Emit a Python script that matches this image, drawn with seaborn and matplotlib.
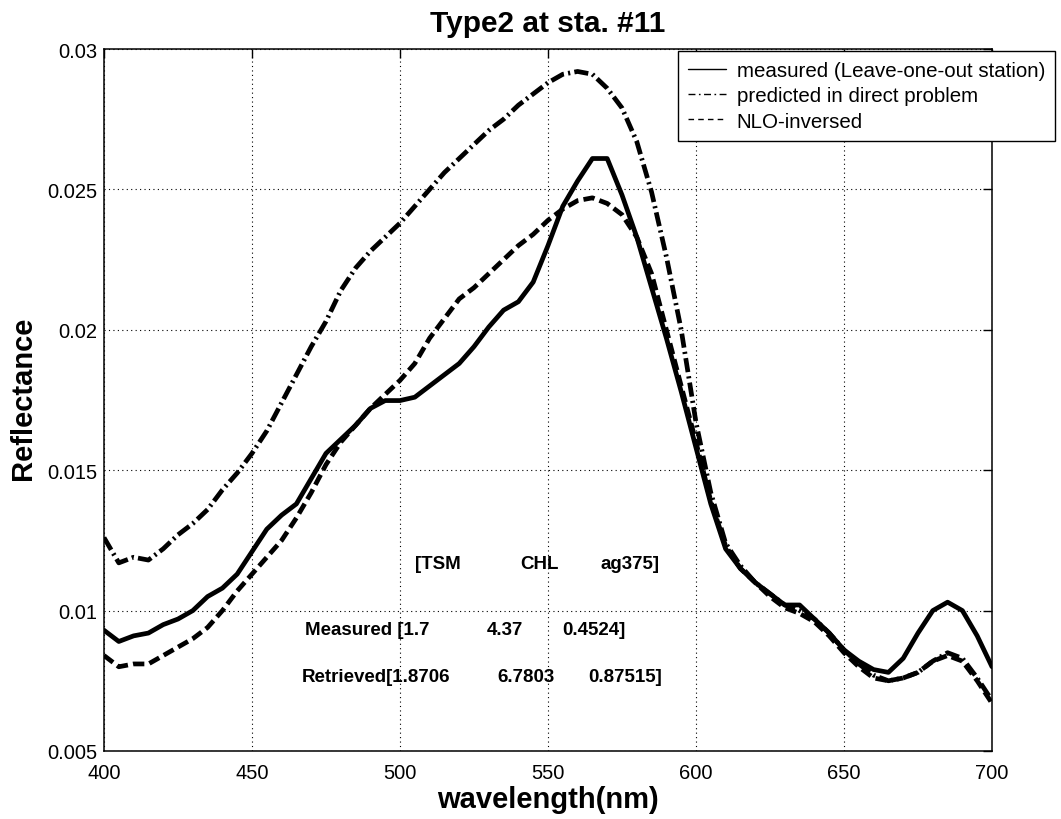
import numpy as np
import pandas as pd
import matplotlib
matplotlib.use("Agg")
import matplotlib.pyplot as plt
import seaborn as sns

# ---------------- data ----------------
wavelength = list(range(400, 701, 5))

measured = [0.0093, 0.0089, 0.0091, 0.0092, 0.0095, 0.0097, 0.0100, 0.0105, 0.0108, 0.0113,
            0.0121, 0.0129, 0.0134, 0.0138, 0.0147, 0.0156, 0.0161, 0.0166, 0.0172, 0.01748,
            0.01748, 0.0176, 0.0180, 0.0184, 0.0188, 0.0194, 0.0201, 0.0207, 0.0210, 0.0217,
            0.0230, 0.0244, 0.0253, 0.0261, 0.0261, 0.0248, 0.0233, 0.0215, 0.0197, 0.0178,
            0.0158, 0.0138, 0.0122, 0.0115, 0.0110, 0.0106, 0.0102, 0.0102, 0.0097, 0.0092,
            0.0086, 0.0082, 0.0079, 0.0078, 0.0083, 0.0092, 0.0100, 0.0103, 0.0100, 0.0091,
            0.0080]

predicted = [0.0126, 0.0117, 0.0119, 0.0118, 0.0122, 0.0127, 0.0131, 0.0136, 0.0143, 0.0149,
             0.0156, 0.0164, 0.0174, 0.0184, 0.0194, 0.0203, 0.0214, 0.0222, 0.0228, 0.0233,
             0.0238, 0.0244, 0.0250, 0.0256, 0.0261, 0.0266, 0.0271, 0.0275, 0.0280, 0.0284,
             0.0288, 0.0291, 0.0292, 0.0291, 0.0286, 0.0279, 0.0267, 0.0249, 0.0226, 0.0200,
             0.0167, 0.0142, 0.0124, 0.0116, 0.0110, 0.0106, 0.0102, 0.0100, 0.0097, 0.0092,
             0.0086, 0.0081, 0.0077, 0.0075, 0.0076, 0.0078, 0.0082, 0.0085, 0.0083, 0.0076,
             0.0068]

nlo_inversed = [0.0084, 0.0080, 0.0081, 0.0081, 0.0084, 0.0087, 0.0090, 0.0094, 0.0100, 0.0107,
                0.0113, 0.0119, 0.0125, 0.0133, 0.0142, 0.0152, 0.0160, 0.0166, 0.0172, 0.0177,
                0.0182, 0.0188, 0.0197, 0.0204, 0.0211, 0.0215, 0.0220, 0.0225, 0.0230, 0.0234,
                0.0239, 0.0243, 0.0246, 0.0247, 0.0245, 0.0241, 0.0233, 0.0220, 0.0200, 0.0180,
                0.0160, 0.0139, 0.0123, 0.0115, 0.0110, 0.0105, 0.0101, 0.0099, 0.0096, 0.0091,
                0.0085, 0.0080, 0.0076, 0.0075, 0.0076, 0.0078, 0.0082, 0.0084, 0.0082, 0.0075,
                0.0067]

series_labels = ["measured (Leave-one-out station)", "predicted in direct problem", "NLO-inversed"]

x_ticks = [400, 450, 500, 550, 600, 650, 700]
y_ticks = [0.005, 0.01, 0.015, 0.02, 0.025, 0.03]
y_tick_labels = ["0.005", "0.01", "0.015", "0.02", "0.025", "0.03"]

title = "Type2 at sta. #11"
x_label = "wavelength(nm)"
y_label = "Reflectance"

# annotation text (MATLAB-style text objects)
ann_header = ["[TSM", "CHL", "ag375]"]
ann_measured = ["Measured [1.7", "4.37", "0.4524]"]
ann_retrieved = ["Retrieved[1.8706", "6.7803", "0.87515]"]

# ---------------- figure ----------------
sns.set_theme(style="white")
plt.rcParams["font.family"] = ["Liberation Sans", "DejaVu Sans"]
plt.rcParams["text.color"] = "black"
plt.rcParams["axes.labelcolor"] = "black"
plt.rcParams["xtick.color"] = "black"
plt.rcParams["ytick.color"] = "black"

fig = plt.figure(figsize=(10.61, 8.20), dpi=100)
ax = fig.add_axes([104 / 1061, 68 / 820, 888 / 1061, 702 / 820])

lw = 3.4
sns.lineplot(x=wavelength, y=measured, ax=ax, color="black", linewidth=lw,
             label=series_labels[0])
sns.lineplot(x=wavelength, y=predicted, ax=ax, color="black", linewidth=lw,
             label=series_labels[1])
sns.lineplot(x=wavelength, y=nlo_inversed, ax=ax, color="black", linewidth=lw,
             label=series_labels[2])

lines = ax.get_lines()
lines[1].set_dashes((3.0, 0.9, 0.45, 0.9))
lines[2].set_dashes((2.4, 1.1))
for ln in lines[1:]:
    ln.set_dash_capstyle("butt")

ax.set_xlim(400, 700)
ax.set_ylim(0.005, 0.03)
ax.set_xticks(x_ticks)
ax.set_xticklabels([str(t) for t in x_ticks])
ax.set_yticks(y_ticks)
ax.set_yticklabels(y_tick_labels)

ax.grid(True, color="black", linestyle=(0, (1, 3)), linewidth=0.8)
for s in ax.spines.values():
    s.set_color("black")
    s.set_linewidth(1.1)

ax.tick_params(axis="both", direction="in", length=6.5, width=1.0, colors="black",
               labelsize=14.5, top=True, right=True)
ax.tick_params(axis="x", pad=9)
ax.tick_params(axis="y", pad=5)

ax.set_xlabel(x_label, fontsize=21, fontweight="bold")
ax.xaxis.label.set_va("center")
ax.xaxis.set_label_coords(0.5, -(800 - 752) / 702)
ax.set_ylabel(y_label, fontsize=21, fontweight="bold")
ax.yaxis.label.set_va("center")
ax.yaxis.set_label_coords(-(104 - 23) / 888, 0.5 + (401 - 398) / 702)

ax.set_title(title, fontsize=21.5, fontweight="bold", y=1 + (50 - 32) / 702, va="baseline", pad=0)

fs_ann = 13.5
for txt, xp in zip(ann_header, [505.1, 540.5, 567.6]):
    ax.text(xp, 0.01166, txt, fontsize=fs_ann, fontweight="bold", ha="left", va="center")
for txt, xp in zip(ann_measured, [467.9, 529.4, 554.7]):
    ax.text(xp, 0.00934, txt, fontsize=fs_ann, fontweight="bold", ha="left", va="center")
for txt, xp in zip(ann_retrieved, [466.9, 532.8, 563.5]):
    ax.text(xp, 0.00764, txt, fontsize=fs_ann, fontweight="bold", ha="left", va="center")

leg = ax.legend(loc="upper left", bbox_to_anchor=(678 / 1061, 1 - 52 / 820),
                bbox_transform=fig.transFigure, fontsize=14.8, frameon=True, fancybox=False,
                borderpad=0.5, labelspacing=0.3, handlelength=1.85, handletextpad=0.5,
                borderaxespad=0)
leg.get_frame().set_edgecolor("black")
leg.get_frame().set_linewidth(1.0)
leg.get_frame().set_alpha(1)
leg_lines = leg.get_lines()
for hl in leg_lines:
    hl.set_linewidth(1.0)
leg_lines[1].set_dashes((5, 2.5, 1.2, 2.5))
leg_lines[2].set_dashes((4, 3))

fig.savefig("out.png", dpi=100)
